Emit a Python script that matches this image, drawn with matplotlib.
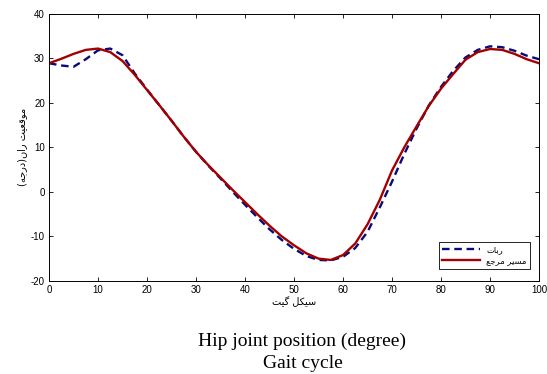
import matplotlib
matplotlib.use("Agg")
import matplotlib.pyplot as plt

# gait cycle (%)
gait = [0, 2.5, 5, 7.5, 10, 12.5, 15, 17.5, 20, 22.5, 25, 27.5, 30, 32.5, 35, 37.5,
        40, 42.5, 45, 47.5, 50, 52.5, 55, 57.5, 60, 62.5, 65, 67.5, 70, 72.5, 75,
        77.5, 80, 82.5, 85, 87.5, 90, 92.5, 95, 97.5, 100]

# reference trajectory (solid red)
ref_deg = [28.9, 29.9, 31.0, 31.9, 32.2, 31.4, 29.4, 26.3, 22.9, 19.5, 16.0, 12.4,
           9.0, 6.0, 3.2, 0.4, -2.3, -5.0, -7.6, -10.0, -12.0, -13.8, -15.0, -15.3,
           -14.2, -11.6, -7.3, -1.8, 4.8, 10.0, 14.7, 19.3, 23.2, 26.5, 29.7, 31.4,
           32.1, 31.9, 31.0, 29.8, 28.9]

# robot (dashed blue)
robot_deg = [28.9, 28.4, 28.1, 29.8, 31.8, 32.2, 30.7, 26.6, 23.0, 19.5, 16.0, 12.4,
             9.0, 5.9, 3.0, 0.0, -2.9, -5.7, -8.4, -10.8, -12.8, -14.4, -15.3, -15.4,
             -14.6, -12.6, -9.0, -3.5, 2.3, 8.5, 14.2, 19.4, 23.6, 27.2, 30.2, 31.9,
             32.7, 32.5, 31.7, 30.6, 29.8]

xticks = [0, 10, 20, 30, 40, 50, 60, 70, 80, 90, 100]
yticks = [-20, -10, 0, 10, 20, 30, 40]

# Persian labels, pre-shaped (presentation forms, visual order)
lbl_robot = "\uFE95\uFE8E\uFE91\uFEAD"                                   # ربات
lbl_ref = "\uFECA\uFE9F\uFEAE\uFEE3 \uFEAE\uFBFF\uFEB4\uFEE3"            # مسیر مرجع
lbl_x = "\uFE96\uFBFF\uFB94 \uFEDE\uFB91\uFBFF\uFEB3"                    # سیکل گیت
lbl_y = "(\uFEEA\uFE9F\uFEAD\uFEA9)\uFEE5\uFE8D\uFEAD \uFE96\uFBFF\uFECC\uFED7\uFEEE\uFEE3"  # موقعیت ران(درجه)

plt.rcParams['font.family'] = ['Liberation Sans', 'DejaVu Sans']
plt.rcParams['axes.unicode_minus'] = False

fig = plt.figure(figsize=(5.47, 3.74), dpi=100)
ax = fig.add_axes([0.0896, 0.249, 0.8958, 0.714])

ax.plot(gait, robot_deg, color='#0a0a78', lw=1.7, dashes=(3.2, 2.0), label=lbl_robot)
ax.plot(gait, ref_deg, color='#a30000', lw=1.7, label=lbl_ref)

ax.set_xlim(0, 100)
ax.set_ylim(-20, 40)
ax.set_xticks(xticks)
ax.set_yticks(yticks)
ax.tick_params(axis='both', direction='in', length=3, width=0.6, labelsize=7,
               top=True, right=True, pad=3)
for s in ax.spines.values():
    s.set_linewidth(0.7)

ax.set_xlabel(lbl_x, family=['DejaVu Sans'], fontsize=7, labelpad=1)
ax.set_ylabel(lbl_y, family=['DejaVu Sans'], fontsize=7, labelpad=3)

leg = ax.legend(loc='lower right', prop={'family': ['DejaVu Sans'], 'size': 6},
                fancybox=False, edgecolor='black', framealpha=1, handlelength=4.5,
                borderpad=0.4, labelspacing=0.3, bbox_to_anchor=(0.99, 0.03))
leg.get_frame().set_linewidth(0.6)

fig.text(0.553, 0.087, "Hip joint position (degree)", ha='center', va='center',
         family='Liberation Serif', fontsize=14)
fig.text(0.553, 0.029, "Gait cycle", ha='center', va='center',
         family='Liberation Serif', fontsize=14)

fig.savefig("out.png", dpi=100)
